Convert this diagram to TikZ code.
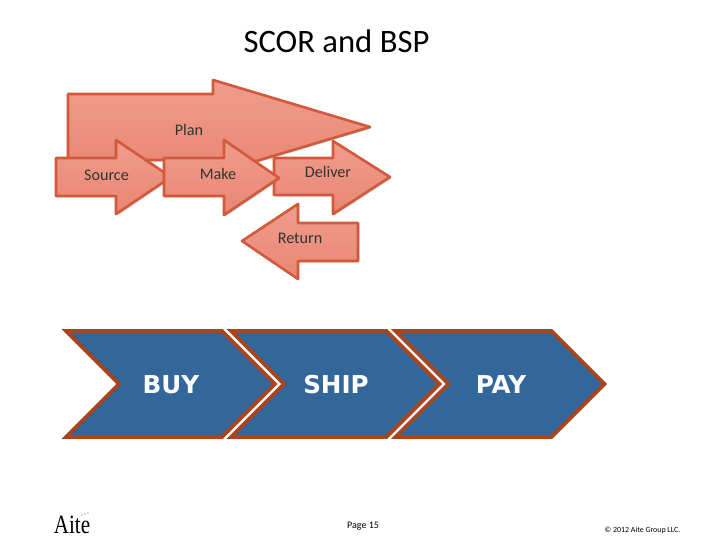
\documentclass[tikz,border=0pt]{standalone}
\usepackage{fontspec}
\usetikzlibrary{shadows}
\setmainfont{Carlito}
\newfontfamily\chevronfont{DejaVu Sans}
\newfontfamily\logofont{Liberation Serif}
\definecolor{arrowtop}{HTML}{F09D8C}
\definecolor{arrowbottom}{HTML}{E98673}
\definecolor{arrowedge}{HTML}{D2593C}
\definecolor{chevronfill}{HTML}{336699}
\definecolor{chevronedge}{HTML}{A8451F}
\definecolor{labelgray}{HTML}{333333}
\tikzset{
  procarrow/.style={top color=arrowtop, bottom color=arrowbottom, draw=arrowedge, line width=1.5pt, line join=round,
                    drop shadow={shadow xshift=0.25mm, shadow yshift=-0.3mm, opacity=0.4}},
  chevron/.style={fill=chevronfill, draw=chevronedge, line width=2.2pt, line join=miter},
  proclabel/.style={font=\fontsize{9.2}{11}\selectfont, text=labelgray, inner sep=0pt},
  chevlabel/.style={font=\chevronfont\bfseries\fontsize{14}{16}\selectfont, text=white, inner sep=0pt},
}

\begin{document}
\begin{tikzpicture}[x=0.02cm, y=-0.02cm]
    \useasboundingbox (0,0) rectangle (720,540);
    \node[font=\fontsize{18.6}{22}\selectfont, inner sep=0pt] (title) at (336.5,41) {SCOR and BSP};

    % process arrows
    \draw[procarrow] (68,94) -- (213,94) -- (213,80) -- (370,127) -- (213,174) -- (213,160) -- (68,160) -- cycle;
    \draw[procarrow] (56,158) -- (116,158) -- (116,140) -- (171,177) -- (116,214) -- (116,196) -- (56,196) -- cycle;
    \draw[procarrow] (274,158) -- (333,158) -- (333,141) -- (390,177) -- (333,214) -- (333,195) -- (274,195) -- cycle;
    \draw[procarrow] (164,158) -- (224,158) -- (224,140) -- (279,178) -- (224,215) -- (224,196) -- (164,196) -- cycle;
    \draw[procarrow] (358,223) -- (298,223) -- (298,204) -- (242,241) -- (298,279) -- (298,261) -- (358,261) -- cycle;
    \node[proclabel] (plan) at (189,130) {Plan};
    \node[proclabel] (source) at (106.5,175) {Source};
    \node[proclabel] (make) at (218,174) {Make};
    \node[proclabel] (deliver) at (328,172) {Deliver};
    \node[proclabel] (return) at (300,238) {Return};

    % chevrons
    \draw[chevron] (66,331) -- (222,331) -- (275,384) -- (222,437) -- (66,437) -- (119,384) -- cycle;
    \draw[chevron] (231,331) -- (386.5,331) -- (439.5,384) -- (386.5,437) -- (231,437) -- (284,384) -- cycle;
    \draw[chevron] (395.5,331) -- (551.5,331) -- (604.5,384) -- (551.5,437) -- (395.5,437) -- (448.5,384) -- cycle;
    \node[chevlabel] (buy) at (171,385) {BUY};
    \node[chevlabel] (ship) at (336,385) {SHIP};
    \node[chevlabel] (pay) at (501,385) {PAY};

    % footer
    \node[font=\logofont\fontsize{15}{17}\selectfont, inner sep=0pt, xscale=0.8, transform shape] (logo) at (72,525) {Aite};
    \fill[chevronedge] (82,515) circle (0.7) (85,514) circle (0.7) (88,513) circle (0.7);
    \node[font=\fontsize{5.7}{7}\selectfont, inner sep=0pt] (page) at (363,526) {Page 15};
    \node[font=\fontsize{4.5}{6}\selectfont, inner sep=0pt] (copy) at (642.5,530) {© 2012 Aite Group LLC.};
  \end{tikzpicture}
\end{document}
